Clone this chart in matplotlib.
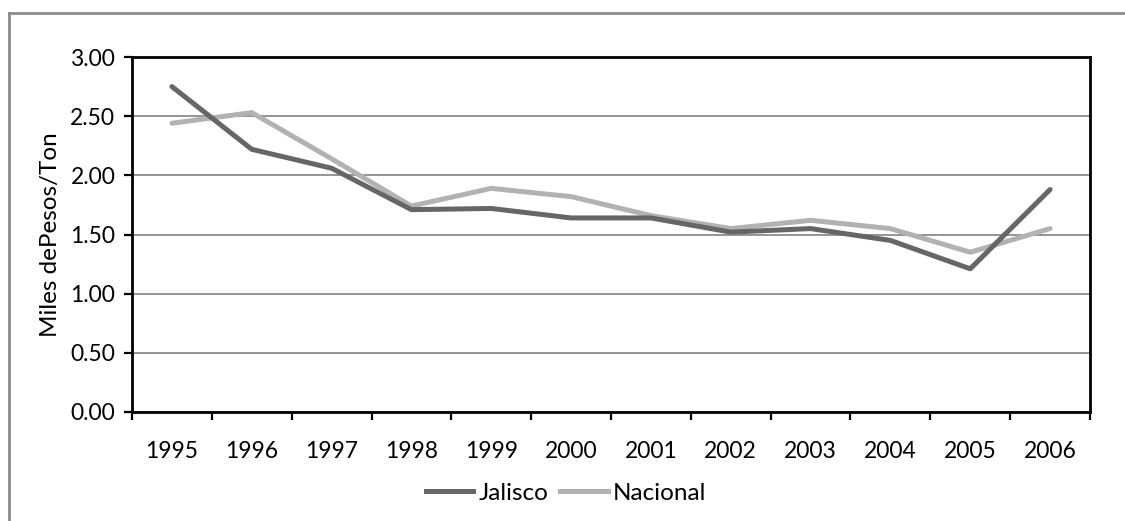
import matplotlib
matplotlib.use("Agg")
import matplotlib.pyplot as plt
from matplotlib.lines import Line2D

years = ["1995", "1996", "1997", "1998", "1999", "2000",
         "2001", "2002", "2003", "2004", "2005", "2006"]
jalisco = [2.75, 2.22, 2.06, 1.71, 1.72, 1.64, 1.64, 1.52, 1.55, 1.45, 1.21, 1.88]
nacional = [2.44, 2.53, 2.14, 1.74, 1.89, 1.82, 1.66, 1.55, 1.62, 1.55, 1.35, 1.55]
yticks = [0.0, 0.5, 1.0, 1.5, 2.0, 2.5, 3.0]

plt.rcParams['font.family'] = ['Lato', 'DejaVu Sans']

fig = plt.figure(figsize=(11.25, 5.21), dpi=100)
ax = fig.add_axes([132 / 1125, 1 - 412 / 521, (1090 - 132) / 1125, (412 - 57) / 521])

x = list(range(len(years)))
ax.plot(x, jalisco, color="#666666", lw=3.6, solid_capstyle="round", label="Jalisco", zorder=3)
ax.plot(x, nacional, color="#b2b2b2", lw=3.6, solid_capstyle="round", label="Nacional", zorder=2)

ax.set_xlim(-0.5, len(years) - 0.5)
ax.set_ylim(0, 3)
ax.set_yticks(yticks)
ax.set_yticklabels([f"{v:.2f}" for v in yticks], fontsize=16.5)
ax.yaxis.grid(True, color="#8c8c8c", lw=1.3)
ax.set_axisbelow(True)

# category boundaries carry the ticks, labels sit at the centers
ax.set_xticks([i - 0.5 for i in range(len(years) + 1)])
ax.set_xticklabels([])
ax.set_xticks(x, minor=True)
ax.set_xticklabels(years, minor=True, fontsize=16.5)
ax.tick_params(axis="x", which="major", direction="out", length=6, width=1.6)
ax.tick_params(axis="x", which="minor", length=0, pad=21)
ax.tick_params(axis="y", direction="out", length=6, width=1.6, pad=6)

for s in ax.spines.values():
    s.set_linewidth(2)
    s.set_color("black")

ax.set_ylabel("Miles dePesos/Ton", fontsize=17.5, labelpad=7)

handles = [Line2D([], [], color="#666666", lw=3.6), Line2D([], [], color="#b2b2b2", lw=3.6)]
fig.legend(handles, ["Jalisco", "Nacional"], loc="center", bbox_to_anchor=(566 / 1125, 1 - 493 / 521),
           ncol=2, frameon=False, fontsize=17.5, handlelength=1.95, handletextpad=0.2,
           columnspacing=0.5)

# outer chart frame (partly cut off at right and bottom)
fig.add_artist(Line2D([9 / 1125, 9 / 1125], [0, 1 - 13 / 521], transform=fig.transFigure,
                      color="#8c8c8c", lw=2))
fig.add_artist(Line2D([9 / 1125, 1], [1 - 13 / 521, 1 - 13 / 521], transform=fig.transFigure,
                      color="#8c8c8c", lw=2))

fig.savefig("out.png", dpi=100, facecolor="white")
